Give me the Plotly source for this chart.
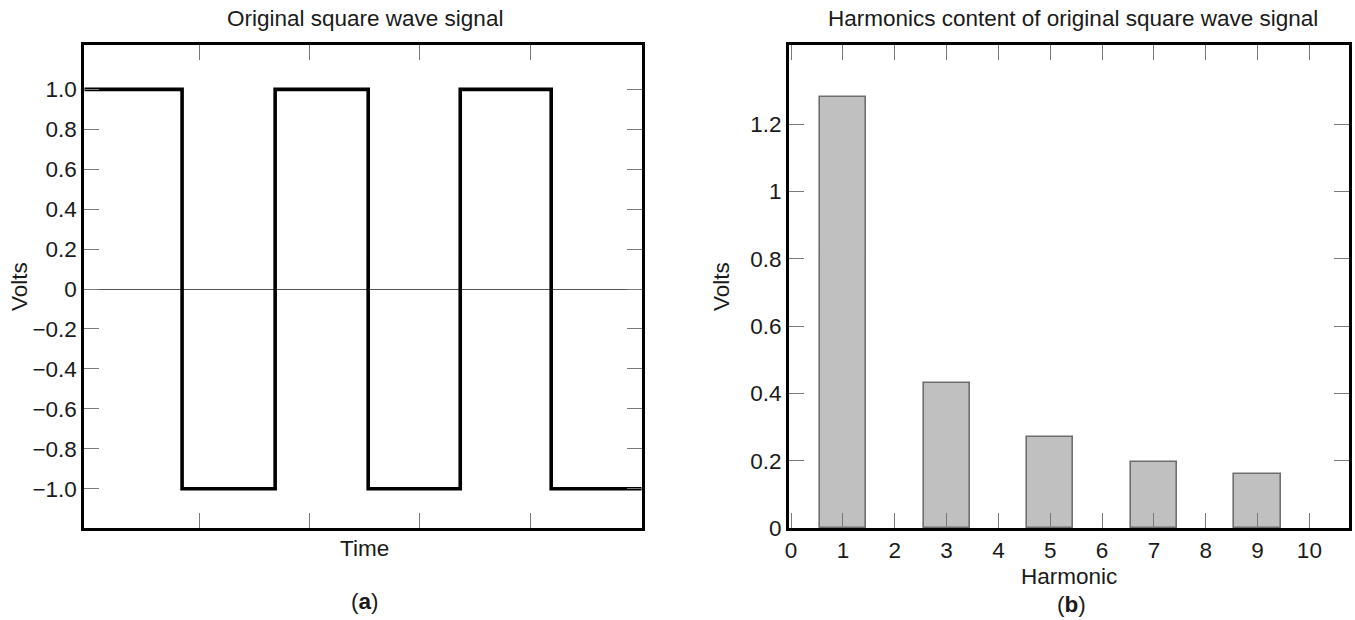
import plotly.graph_objects as go
from plotly.subplots import make_subplots

# ---------------- data ----------------
# (a) square wave: transition times (arbitrary time units) and levels
wave_time = [0, 0.886, 1.729, 2.572, 3.406, 4.23, 5.05]
wave_volts = [1.0, -1.0, 1.0, -1.0, 1.0, -1.0, -1.0]
wave_ytickvals = [1.0, 0.8, 0.6, 0.4, 0.2, 0, -0.2, -0.4, -0.6, -0.8, -1.0]
wave_yticktext = ["1.0", "0.8", "0.6", "0.4", "0.2", "0", "\u22120.2", "\u22120.4",
                  "\u22120.6", "\u22120.8", "\u22121.0"]
wave_xtickvals = [1.04, 2.04, 3.04, 4.04]

# (b) harmonic content
harmonics = [1, 3, 5, 7, 9]
harmonic_volts = [1.28, 0.43, 0.27, 0.195, 0.16]
harm_xtickvals = [0, 1, 2, 3, 4, 5, 6, 7, 8, 9, 10]
harm_xticktext = ["0", "1", "2", "3", "4", "5", "6", "7", "8", "9", "10"]
harm_ytickvals = [0, 0.2, 0.4, 0.6, 0.8, 1.0, 1.2]
harm_yticktext = ["0", "0.2", "0.4", "0.6", "0.8", "1", "1.2"]

# ---------------- layout helpers ----------------
W, H = 1355, 620
FONT = "Liberation Sans, Arial, Helvetica, sans-serif"
TXT = "#1a1a1a"
FS = 22.5


def px(x):
    return x / W


def py(y):
    return 1 - y / H


fig = make_subplots(rows=1, cols=2)

fig.add_trace(go.Scatter(x=wave_time, y=wave_volts, mode="lines", line_shape="hv",
                         line=dict(color="black", width=3.6), showlegend=False),
              row=1, col=1)

fig.add_trace(go.Bar(x=harmonics, y=harmonic_volts, width=0.89,
                     marker=dict(color="#c0c0c0", line=dict(color="#6e6e6e", width=1.6)),
                     showlegend=False),
              row=1, col=2)

axis_common = dict(showline=True, linewidth=3, linecolor="black", mirror="ticks",
                   ticks="inside", ticklen=15, tickwidth=1.4, tickcolor="#7a7a7a",
                   showgrid=False, automargin=False,
                   tickfont=dict(family=FONT, size=FS, color=TXT))

fig.update_xaxes(axis_common, row=1, col=1)
fig.update_yaxes(axis_common, row=1, col=1)
fig.update_xaxes(axis_common, row=1, col=2)
fig.update_yaxes(axis_common, row=1, col=2)

fig.update_layout(
    xaxis=dict(domain=[px(84.3), px(641.7)], range=[0, 5.05], tickvals=wave_xtickvals,
               ticktext=["", "", "", ""], zeroline=False),
    yaxis=dict(domain=[py(528.3), py(45)], range=[-1.198, 1.222], tickvals=wave_ytickvals,
               ticktext=wave_yticktext, zeroline=True, zerolinecolor="#555555",
               zerolinewidth=1.1),
    xaxis2=dict(domain=[px(789), px(1349.3)], range=[-0.04, 10.77], tickvals=harm_xtickvals,
                ticktext=harm_xticktext, zeroline=False),
    yaxis2=dict(domain=[py(528), py(45)], range=[0, 1.435], tickvals=harm_ytickvals,
                ticktext=harm_yticktext, zeroline=False),
    width=W, height=H,
    margin=dict(l=0, r=0, t=0, b=0, pad=0, autoexpand=False),
    paper_bgcolor="white", plot_bgcolor="white",
    font=dict(family=FONT, size=FS, color=TXT),
    bargap=0,
)

annots = [
    ("Original square wave signal", 365, 19, 0),
    ("Harmonics content of original square wave signal", 1073, 19, 0),
    ("Time", 364, 548, 0),
    ("(<b>a</b>)", 365, 601, 0),
    ("Harmonic", 1069, 576, 0),
    ("(<b>b</b>)", 1071, 604, 0),
    ("Volts", 19, 287, -90),
    ("Volts", 721, 287, -90),
]
for text, x, y, ang in annots:
    fig.add_annotation(text=text, x=px(x), y=py(y), xref="paper", yref="paper",
                       xanchor="center", yanchor="middle", showarrow=False,
                       textangle=ang, font=dict(family=FONT, size=FS, color=TXT))

fig.write_html("out.html", config={"displayModeBar": False},
               post_script="document.body.style.margin='0';"
                           "document.body.style.overflow='hidden';")
